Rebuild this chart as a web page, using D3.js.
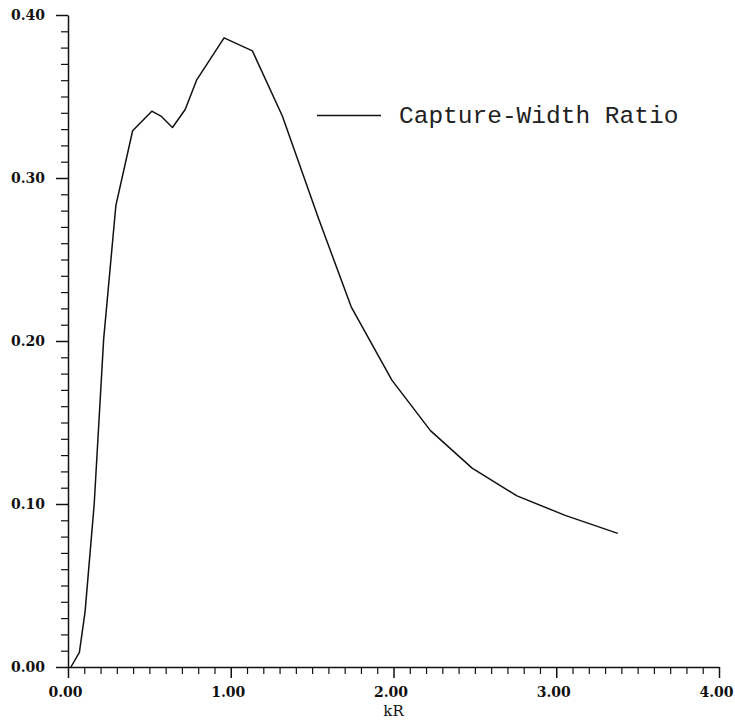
<!DOCTYPE html>
<html>
<head>
<meta charset="utf-8">
<script src="https://cdn.jsdelivr.net/npm/d3@7"></script>
<style>
  html, body { margin: 0; padding: 0; background: #fff; }
  svg { display: block; }
</style>
</head>
<body>
<svg id="chart" width="735" height="720"></svg>
<script>
// ---- data ----
const kR  = [0.018, 0.070, 0.105, 0.161, 0.219, 0.294, 0.397, 0.515, 0.571, 0.642, 0.720, 0.790, 0.959, 1.133, 1.317, 1.540, 1.740, 1.990, 2.227, 2.483, 2.759, 3.055, 3.378];
const cwr = [0.000, 0.009, 0.034, 0.100, 0.201, 0.283, 0.329, 0.341, 0.338, 0.331, 0.342, 0.360, 0.386, 0.378, 0.338, 0.275, 0.221, 0.176, 0.145, 0.122, 0.105, 0.093, 0.082];
const xMajorTicks = [0, 1, 2, 3, 4];
const xTickLabels = ["0.00", "1.00", "2.00", "3.00", "4.00"];
const yMajorTicks = [0, 0.1, 0.2, 0.3, 0.4];
const yTickLabels = ["0.00", "0.10", "0.20", "0.30", "0.40"];
const xLabel = "kR";
const legendLabel = "Capture-Width Ratio";

// ---- drawing ----
const svg = d3.select("#chart");
const x = d3.scaleLinear().domain([0, 4]).range([68, 719]);
const y = d3.scaleLinear().domain([0, 0.4]).range([667, 15]);

const labelFont = "'DejaVu Serif', 'Liberation Serif', serif";

// minor x ticks
const xMinor = d3.range(0, 41).map(i => i / 10).filter(v => !xMajorTicks.some(t => Math.abs(t - v) < 1e-9));
svg.append("g").attr("transform", `translate(0,${y(0)})`)
  .call(d3.axisBottom(x).tickValues(xMinor).tickSize(7).tickFormat(""))
  .call(g => g.select(".domain").remove())
  .call(g => g.selectAll("line").attr("stroke", "#111").attr("stroke-width", 1.2));

// major x ticks + labels
svg.append("g").attr("transform", `translate(0,${y(0)})`)
  .call(d3.axisBottom(x).tickValues(xMajorTicks).tickSize(11).tickSizeOuter(0)
        .tickFormat((d, i) => xTickLabels[i]).tickPadding(9))
  .call(g => g.select(".domain").attr("stroke", "#111").attr("stroke-width", 1.5))
  .call(g => g.selectAll("line").attr("stroke", "#111").attr("stroke-width", 1.5))
  .call(g => g.selectAll("text").attr("font-family", labelFont).attr("font-weight", "bold")
        .attr("font-size", 14).attr("fill", "#111").attr("dx", -3));

// minor y ticks
const yMinor = d3.range(0, 41).map(i => i / 100).filter(v => !yMajorTicks.some(t => Math.abs(t - v) < 1e-9));
svg.append("g").attr("transform", `translate(${x(0)},0)`)
  .call(d3.axisLeft(y).tickValues(yMinor).tickSize(7).tickFormat(""))
  .call(g => g.select(".domain").remove())
  .call(g => g.selectAll("line").attr("stroke", "#111").attr("stroke-width", 1.2));

// major y ticks + labels
svg.append("g").attr("transform", `translate(${x(0)},0)`)
  .call(d3.axisLeft(y).tickValues(yMajorTicks).tickSize(12).tickSizeOuter(0)
        .tickFormat((d, i) => yTickLabels[i]).tickPadding(11))
  .call(g => g.select(".domain").attr("stroke", "#111").attr("stroke-width", 1.5))
  .call(g => g.selectAll("line").attr("stroke", "#111").attr("stroke-width", 1.5))
  .call(g => g.selectAll("text").attr("font-family", labelFont).attr("font-weight", "bold")
        .attr("font-size", 14).attr("fill", "#111"));

// x axis title
svg.append("text")
  .attr("x", x(2)).attr("y", 716)
  .attr("text-anchor", "middle")
  .attr("font-family", labelFont).attr("font-size", 15).attr("fill", "#111")
  .text(xLabel);

// curve
const pts = kR.map((k, i) => [k, cwr[i]]);
svg.append("path")
  .datum(pts)
  .attr("fill", "none").attr("stroke", "#111").attr("stroke-width", 1.5)
  .attr("stroke-linejoin", "round")
  .attr("d", d3.line().x(d => x(d[0])).y(d => y(d[1])));

// legend
const lg = svg.append("g");
lg.append("line").attr("x1", 317).attr("x2", 381).attr("y1", 115.5).attr("y2", 115.5)
  .attr("stroke", "#111").attr("stroke-width", 1.3);
lg.append("text").attr("x", 399).attr("y", 123)
  .attr("font-family", "'Liberation Mono', 'Courier New', monospace")
  .attr("font-size", 24.5).attr("fill", "#222")
  .text(legendLabel);
</script>
</body>
</html>
